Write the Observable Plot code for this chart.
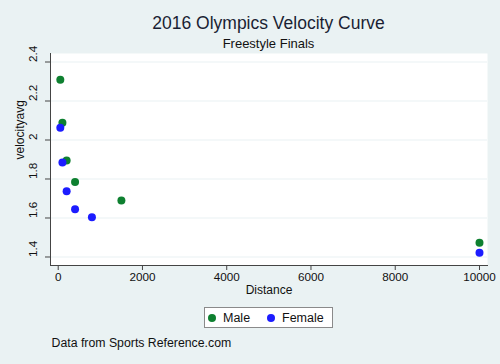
<!DOCTYPE html>
<html>
<head>
<meta charset="utf-8">
<script src="https://cdn.jsdelivr.net/npm/d3@7"></script>
<script src="https://cdn.jsdelivr.net/npm/@observablehq/plot@0.6"></script>
<style>
  html, body { margin: 0; padding: 0; background: #EAF2F3; }
  body { width: 500px; height: 364px; overflow: hidden; font-family: "Liberation Sans", Arial, Helvetica, sans-serif; color: #111; }
  #header, #footer { position: relative; width: 500px; }
  #header { height: 38px; }
  #footer { height: 64px; }
  .title { position: absolute; left: 50px; width: 437px; text-align: center; white-space: nowrap; }
  #t1 { top: 12px; font-size: 17.5px; line-height: 22px; color: #1a1f33; }
  #t2 { top: 35.5px; font-size: 13px; line-height: 16px; }
  #legend { position: absolute; left: 204px; top: 6.5px; width: 129px; height: 21px; box-sizing: border-box; border: 1px solid #8a8a8a; background: #fff; font-size: 12.5px; }
  .li { position: absolute; top: 0; line-height: 20px; white-space: nowrap; }
  .sw { position: absolute; top: 6px; width: 8px; height: 8px; border-radius: 50%; }
  #caption { position: absolute; left: 51.5px; top: 35px; font-size: 12.3px; line-height: 16px; white-space: nowrap; }
  #chart { position: relative; z-index: 0; }
  #header { z-index: 1; }
  svg { display: block; }
</style>
</head>
<body>
<div id="header">
  <div class="title" id="t1">2016 Olympics Velocity Curve</div>
  <div class="title" id="t2">Freestyle Finals</div>
</div>
<div id="chart"></div>
<div id="footer">
  <div id="legend"></div>
  <div id="caption">Data from Sports Reference.com</div>
</div>
<script>
// Data
const maleDistance = [50, 100, 200, 400, 1500, 10000];
const maleVelocity = [2.309, 2.088, 1.895, 1.784, 1.690, 1.473];
const femaleDistance = [50, 100, 200, 400, 800, 10000];
const femaleVelocity = [2.063, 1.885, 1.737, 1.645, 1.604, 1.422];
const groups = ["Male", "Female"];
const groupColors = ["#0e8030", "#1c1cff"];
const xTicks = [0, 2000, 4000, 6000, 8000, 10000];
const yTicks = [1.4, 1.6, 1.8, 2.0, 2.2, 2.4];

const data = [
  ...maleDistance.map((d, i) => ({group: "Male", distance: d, velocity: maleVelocity[i]})),
  ...femaleDistance.map((d, i) => ({group: "Female", distance: d, velocity: femaleVelocity[i]}))
];

const plot = Plot.plot({
  width: 500,
  height: 262,
  marginLeft: 50,
  marginRight: 13,
  marginTop: 15,
  marginBottom: 35,
  style: {background: "transparent", fontFamily: "Liberation Sans, Arial, sans-serif", color: "#111"},
  x: {domain: [-183, 10190]},
  y: {domain: [1.3564, 2.4436]},
  color: {domain: groups, range: groupColors},
  marks: [
    Plot.frame({fill: "white", stroke: null}),
    Plot.gridY(yTicks, {stroke: "#EAF2F3", strokeOpacity: 1, strokeWidth: 1.2}),
    Plot.frame({anchor: "left", stroke: "#444", strokeWidth: 1}),
    Plot.frame({anchor: "bottom", stroke: "#444", strokeWidth: 1}),
    Plot.axisX({ticks: xTicks, tickSize: 5, tickPadding: 2, fontSize: 11.7, stroke: "#444",
      tickFormat: d => String(d), label: null}),
    Plot.axisY({ticks: yTicks, tickSize: 5, tickFormat: () => "", label: null, stroke: "#444"}),
    Plot.text(yTicks, {y: d => d, frameAnchor: "left", dx: -17, rotate: -90,
      text: d => String(+d.toFixed(1)), fontSize: 11.7, fill: "#111"}),
    Plot.text(["velocityavg"], {frameAnchor: "left", dx: -30, rotate: -90, text: d => d, fontSize: 12, fill: "#111"}),
    Plot.text(["Distance"], {frameAnchor: "bottom", dy: 28, text: d => d, fontSize: 12, fill: "#111"}),
    Plot.dot(data, {x: "distance", y: "velocity", fill: "group", r: 4, stroke: null})
  ]
});
document.getElementById("chart").appendChild(plot);

// Legend
const legend = document.getElementById("legend");
const swX = [7, 66];
const txX = [18, 77];
groups.forEach((g, i) => {
  const sw = document.createElement("div");
  sw.className = "sw";
  sw.style.left = (swX[i] - 4) + "px";
  sw.style.background = groupColors[i];
  legend.appendChild(sw);
  const t = document.createElement("div");
  t.className = "li";
  t.style.left = txX[i] + "px";
  t.textContent = g;
  legend.appendChild(t);
});
</script>
</body>
</html>
